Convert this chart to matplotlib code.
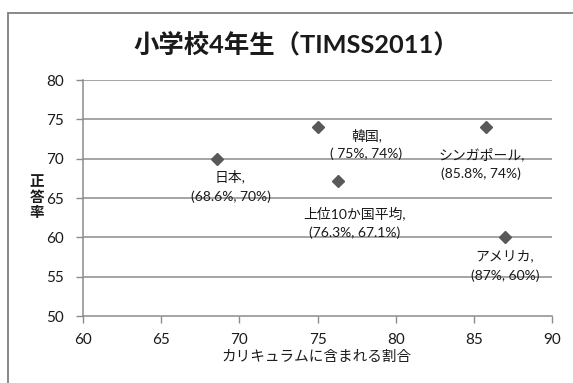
import matplotlib
matplotlib.use("Agg")
import matplotlib.pyplot as plt
from matplotlib.patches import Rectangle

plt.rcParams['font.family'] = ['Lato', 'Noto Sans CJK JP', 'DejaVu Sans']

# ---- data ----
names = ["日本", "韓国", "シンガポール", "上位10か国平均", "アメリカ"]
x_vals = [68.6, 75, 85.8, 76.3, 87]
y_vals = [70, 74, 74, 67.1, 60]
value_texts = ["(68.6%, 70%)", "( 75%, 74%)", "(85.8%, 74%)", "(76.3%, 67.1%)", "(87%, 60%)"]
x_ticks = [60, 65, 70, 75, 80, 85, 90]
y_ticks = [50, 55, 60, 65, 70, 75, 80]
title = "小学校4年生（TIMSS2011）"
x_label = "カリキュラムに含まれる割合"
y_label = "正答率"

# label offsets in pixels (dx, dy line1, dy line2), y downward
offsets = [(13, 18, 38), (49, 8, 27), (-5, 27, 47), (17, 32, 51), (0, 18, 38)]

W, H = 573, 383
fig = plt.figure(figsize=(W / 100, H / 100), dpi=100)
fig.patch.set_facecolor('white')

# outer frame
fig.patches.append(Rectangle((8 / W, 0 - 0.05), 1.2, 1 - 13 / H + 0.05,
                             transform=fig.transFigure, fill=False,
                             edgecolor='#7f7f7f', linewidth=1.3))

ax = fig.add_axes([83 / W, 1 - 316 / H, (552 - 83) / W, (316 - 80) / H])
ax.set_xlim(60, 90)
ax.set_ylim(50, 80)
ax.set_xticks(x_ticks)
ax.set_yticks(y_ticks)
ax.set_xticklabels([str(t) for t in x_ticks])
ax.set_yticklabels([str(t) for t in y_ticks])

grid_c = '#8c8c8c'
txt_c = '#1a1a1a'
for yt in y_ticks[1:]:
    ax.axhline(yt, color=grid_c, linewidth=1.1, zorder=1)
for s in ['top', 'right']:
    ax.spines[s].set_visible(False)
for s in ['left', 'bottom']:
    ax.spines[s].set_color(grid_c)
    ax.spines[s].set_linewidth(1.1)
ax.tick_params(axis='both', direction='out', length=5, width=1.0, color=grid_c,
               labelsize=11, labelcolor=txt_c)
ax.tick_params(axis='y', pad=9)
ax.tick_params(axis='x', pad=7)

ax.plot(x_vals, y_vals, linestyle='none', marker='D', markersize=6,
        color='#595959', zorder=3, clip_on=False)

for name, xv, yv, vt, (dx, d1, d2) in zip(names, x_vals, y_vals, value_texts, offsets):
    ax.annotate(name + ",", (xv, yv), xytext=(dx, -d1), textcoords='offset pixels',
                ha='center', va='center', fontsize=10, color=txt_c, zorder=4)
    ax.annotate(vt, (xv, yv), xytext=(dx, -d2), textcoords='offset pixels',
                ha='center', va='center', fontsize=10, color=txt_c, zorder=4)

fig.text(296 / W, 1 - 44 / H, title, ha='center', va='center', fontsize=18.3,
         fontweight='bold', color=txt_c)
fig.text(316 / W, 1 - 357 / H, x_label, ha='center', va='center', fontsize=10.5,
         color=txt_c)
fig.text(37 / W, 1 - 197 / H, "\n".join(y_label), ha='center', va='center',
         fontsize=10.5, fontweight='bold', color=txt_c, linespacing=0.95,
         family=['Noto Sans CJK JP'])

fig.savefig("out.png", dpi=100, facecolor='white')
